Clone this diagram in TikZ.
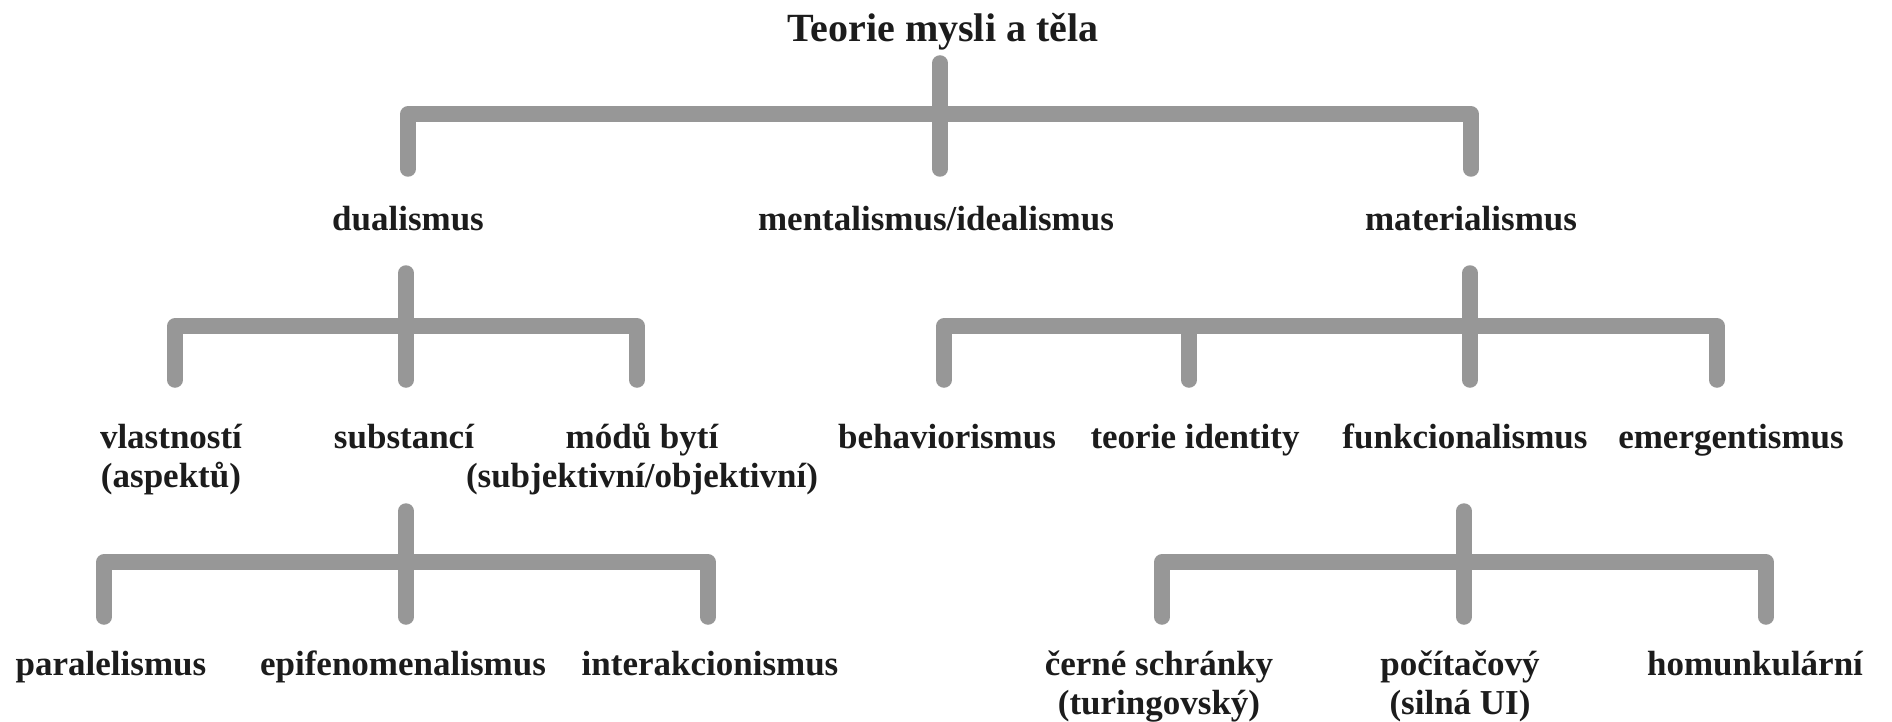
\documentclass[tikz,border=0pt]{standalone}
\usepackage{fontspec}
\setmainfont{Liberation Serif}
\definecolor{conncol}{RGB}{151,151,151}
\definecolor{txtcol}{RGB}{28,28,28}
\begin{document}
\begin{tikzpicture}[x=1pt,y=-1pt,
  lbl/.style={inner sep=0pt,anchor=base,align=center,text=txtcol,
    font=\bfseries\fontsize{35}{39}\selectfont},
  ttl/.style={inner sep=0pt,anchor=base,text=txtcol,
    font=\bfseries\fontsize{40}{44}\selectfont},
  conn/.style={draw=conncol,line width=15.5pt,line cap=round,line join=round}]
\useasboundingbox (0,0) rectangle (1892,722);
% title and labels (two-line nodes are placed by the baseline of their last line)
\node[ttl] (title) at (943,42) {Teorie mysli a těla};
\node[lbl] (dual) at (408,230) {dualismus};
\node[lbl] (ment) at (936,230) {mentalismus/idealismus};
\node[lbl] (mat) at (1471,230) {materialismus};
\node[lbl] (vlast) at (171,487) {vlastností\\(aspektů)};
\node[lbl] (subst) at (404,448) {substancí};
\node[lbl] (modu) at (642,487) {módů bytí\\(subjektivní/objektivní)};
\node[lbl] (behav) at (947,448) {behaviorismus};
\node[lbl] (ident) at (1195,448) {teorie identity};
\node[lbl] (funk) at (1465,448) {funkcionalismus};
\node[lbl] (emerg) at (1731,448) {emergentismus};
\node[lbl] (paral) at (111,675) {paralelismus};
\node[lbl] (epif) at (403,675) {epifenomenalismus};
\node[lbl] (inter) at (710,675) {interakcionismus};
\node[lbl] (cerne) at (1159,714) {černé schránky\\(turingovský)};
\node[lbl] (pocit) at (1460,714) {počítačový\\(silná UI)};
\node[lbl] (homun) at (1755,675) {homunkulární};
% junction coordinates
\coordinate (t-top) at (940,63);
\coordinate (t-bar) at (940,114);
\coordinate (t-a) at (408,169);
\coordinate (t-b) at (940,169);
\coordinate (t-c) at (1471,169);
\coordinate (d-top) at (406,273);
\coordinate (d-bar) at (406,326);
\coordinate (d-a) at (175,380);
\coordinate (d-b) at (406,380);
\coordinate (d-c) at (637,380);
\coordinate (m-top) at (1470,273);
\coordinate (m-bar) at (1470,326);
\coordinate (m-a) at (944,380);
\coordinate (m-b) at (1189,380);
\coordinate (m-c) at (1470,380);
\coordinate (m-d) at (1717,380);
\coordinate (s-top) at (406,511);
\coordinate (s-bar) at (406,562);
\coordinate (s-a) at (104,617);
\coordinate (s-b) at (406,617);
\coordinate (s-c) at (708,617);
\coordinate (f-top) at (1464,511);
\coordinate (f-bar) at (1464,562);
\coordinate (f-a) at (1162,617);
\coordinate (f-b) at (1464,617);
\coordinate (f-c) at (1766,617);
% connectors
\draw[conn] (t-top) -- (t-b);
\draw[conn] (t-a) |- (t-bar) -| (t-c);
\draw[conn] (d-top) -- (d-b);
\draw[conn] (d-a) |- (d-bar) -| (d-c);
\draw[conn] (m-top) -- (m-c);
\draw[conn] (m-a) |- (m-bar) -| (m-d);
\draw[conn] (m-bar -| m-b) -- (m-b);
\draw[conn] (s-top) -- (s-b);
\draw[conn] (s-a) |- (s-bar) -| (s-c);
\draw[conn] (f-top) -- (f-b);
\draw[conn] (f-a) |- (f-bar) -| (f-c);
\end{tikzpicture}
\end{document}
